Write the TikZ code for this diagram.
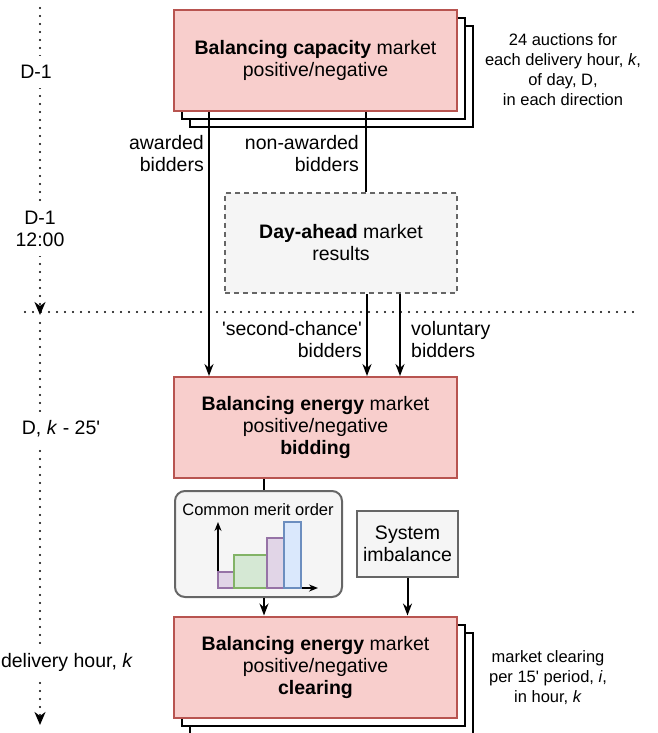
\documentclass[tikz,border=0pt]{standalone}
\usepackage{fontspec}
\setmainfont{Liberation Sans}
\usetikzlibrary{positioning,arrows.meta}

\definecolor{redfill}{HTML}{F8CECC}
\definecolor{redline}{HTML}{B85450}
\definecolor{greyfill}{HTML}{F5F5F5}
\definecolor{greyline}{HTML}{666666}
\definecolor{purplefill}{HTML}{E1D5E7}
\definecolor{purpleline}{HTML}{9673A6}
\definecolor{greenfill}{HTML}{D5E8D4}
\definecolor{greenline}{HTML}{82B366}
\definecolor{bluefill}{HTML}{DAE8FC}
\definecolor{blueline}{HTML}{6C8EBF}

\newcommand{\bigfont}{\fontsize{19.5}{22}\selectfont}
\newcommand{\smallfont}{\fontsize{16.5}{20}\selectfont}

\begin{document}
\begin{tikzpicture}[
	x=1pt, y=-1pt,
	marketnode/.style={rectangle, draw=redline, fill=redfill, line width=2pt, minimum width=283pt, minimum height=101pt, align=center, font=\bigfont, inner sep=0pt},
	stacknode/.style={rectangle, draw=black, fill=white, line width=2pt, minimum width=283pt, minimum height=101pt},
	greynode/.style={rectangle, draw=greyline, fill=greyfill, line width=2pt, align=center, font=\bigfont, inner sep=0pt},
	labelnode/.style={font=\bigfont, inner sep=0pt},
	notenode/.style={align=center, font=\smallfont, inner sep=0pt},
	timenode/.style={align=center, font=\bigfont, fill=white, inner xsep=2pt, inner ysep=9pt},
	line/.style={line width=2pt},
	arr/.style={line width=2pt, -{Stealth[length=12pt, width=9pt, inset=4pt]}},
	axisarr/.style={line width=2pt, -{Stealth[length=9pt, width=7pt, inset=3pt]}},
	dotline/.style={line width=2.4pt, line cap=round, dash pattern=on 0pt off 8pt},
	timeline/.style={dotline, -{Stealth[length=13pt, width=11pt, inset=4pt]}},
	bar/.style={line width=2pt},
	]
	\useasboundingbox (0,0) rectangle (658,733);

	%Timeline
	\coordinate (ttop) at (40,8);
	\coordinate (tmid) at (40,315);
	\coordinate (tnext) at (40,323);
	\coordinate (tend) at (40,725);
	\coordinate (hleft) at (25,312);
	\coordinate (hright) at (637,312);
	\draw[timeline] (ttop) -- (tmid);
	\draw[timeline] (tnext) -- (tend);
	\draw[dotline] (hleft) -- (hright);
	\node[timenode] (t1) at (36,72) {D-1};
	\node[timenode] (t2) at (40,229) {D-1\\12:00};
	\node[timenode] (t3) at (61,429) {D, \textit{k} - 25\textquotesingle};
	\node[timenode] (t4) at (67,662) {delivery hour, \textit{k}};

	%Capacity market
	\node[stacknode] (cap3) at (331.5,76.5) {};
	\node[stacknode] (cap2) at (323.5,68.5) {};
	\node[marketnode] (cap) at (315.5,60.5) {\textbf{Balancing capacity} market\\positive/negative};
	\node[notenode] (capnote) at (563,70) {24 auctions for\\each delivery hour, \textit{k},\\of day, D,\\in each direction};

	%Day-ahead market
	\node[greynode, dashed, dash pattern=on 5pt off 4pt, minimum width=232pt, minimum height=100pt] (dam) at (341,243) {\textbf{Day-ahead} market\\results};

	%Energy market bidding
	\node[marketnode] (bid) at (315.5,427.5) {\textbf{Balancing energy} market\\positive/negative\\\textbf{bidding}};

	%Merit order and imbalance
	\node[greynode, rounded corners=10pt, minimum width=167pt, minimum height=106pt] (mer) at (258.5,544) {};
	\node[notenode] (mertitle) at (258,510) {Common merit order};
	\node[greynode, minimum width=101pt, minimum height=66pt] (sys) at (407.5,544) {System\\imbalance};

	%Energy market clearing
	\node[stacknode] (clr3) at (331.5,683) {};
	\node[stacknode] (clr2) at (323.5,675) {};
	\node[marketnode] (clr) at (315.5,667) {\textbf{Balancing energy} market\\positive/negative\\\textbf{clearing}};
	\node[notenode] (clrnote) at (548,678) {market clearing\\per 15\textquotesingle{} period, \textit{i},\\in hour, \textit{k}};

	%Chart
	\draw[axisarr] (218,588) -- (218,522);
	\draw[axisarr] (218,588) -- (318,588);
	\draw[bar, draw=purpleline, fill=purplefill] (218,588) rectangle (234,572);
	\draw[bar, draw=greenline, fill=greenfill] (234,588) rectangle (267,555);
	\draw[bar, draw=purpleline, fill=purplefill] (267,588) rectangle (284,538);
	\draw[bar, draw=blueline, fill=bluefill] (284,588) rectangle (301,522);

	%Bidder labels
	\node[labelnode, anchor=east, align=right] (awd) at (204,154) {awarded\\bidders};
	\node[labelnode, anchor=east, align=right] (naw) at (359,154) {non-awarded\\bidders};
	\node[labelnode, anchor=east, align=right] (sec) at (362,340) {\textquotesingle second-chance\textquotesingle\\bidders};
	\node[labelnode, anchor=west, align=left] (vol) at (411,340) {voluntary\\bidders};

	%Connectors
	\coordinate (awdx) at ([xshift=36pt]cap.south west);
	\coordinate (nawx) at ([xshift=193pt]cap.south west);
	\coordinate (secx) at ([xshift=143pt]dam.south west);
	\coordinate (volx) at ([xshift=176pt]dam.south west);
	\coordinate (merx) at ([xshift=91pt]bid.south west);
	\draw[arr] (awdx) -- (awdx |- bid.north);
	\draw[line] (nawx) -- (nawx |- dam.north);
	\draw[arr] (secx) -- (secx |- bid.north);
	\draw[arr] (volx) -- (volx |- bid.north);
	\draw[line] (merx) -- (merx |- mer.north);
	\draw[arr] (merx |- mer.south) -- (merx |- clr.north);
	\draw[arr] (sys.south) -- (sys.south |- clr.north);
\end{tikzpicture}
\end{document}
